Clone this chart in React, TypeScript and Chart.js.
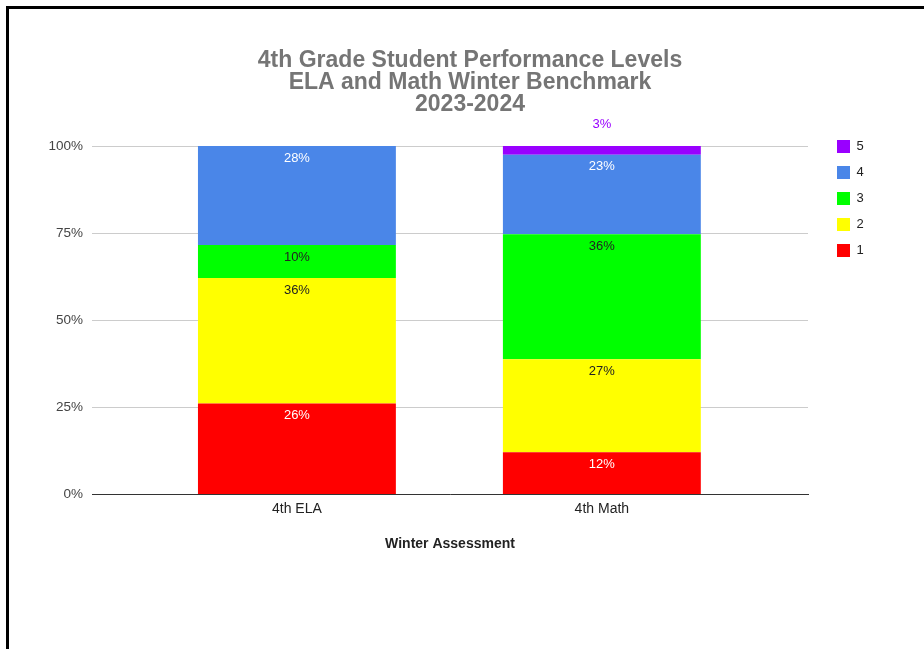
import React, { useEffect, useRef } from "react";
import { Chart, registerables } from "chart.js";

Chart.register(...registerables);

const categories = ["4th ELA", "4th Math"];
const levels = ["1", "2", "3", "4", "5"];
const level1 = [26.1, 12.1];
const level2 = [36.0, 26.7];
const level3 = [9.5, 35.9];
const level4 = [28.4, 22.8];
const level5 = [0, 2.5];
const levelColors = ["#ff0000", "#ffff00", "#00ff00", "#4a86e8", "#9900ff"];
const labelColors = ["#ffffff", "#222222", "#222222", "#ffffff", "#9900ff"];
const titleLines = ["4th Grade Student Performance Levels", "ELA and Math Winter Benchmark", "2023-2024"];
const xTitle = "Winter Assessment";

const FONT = "'Liberation Sans', Arial, sans-serif";

const dataLabels = {
  id: "dataLabels",
  afterDatasetsDraw(chart: any) {
    const ctx = chart.ctx;
    ctx.save();
    ctx.font = `13px ${FONT}`;
    ctx.textAlign = "center";
    ctx.textBaseline = "middle";
    chart.data.datasets.forEach((ds: any, i: number) => {
      const meta = chart.getDatasetMeta(i);
      meta.data.forEach((bar: any, j: number) => {
        const v = ds.data[j].y;
        if (!v) return;
        const p = bar.getProps(["x", "y", "base"], true);
        const h = p.base - p.y;
        ctx.fillStyle = labelColors[i];
        const ty = h < 16 ? p.y - 22 : p.y + 12;
        ctx.fillText(Math.round(v) + "%", p.x, ty);
      });
    });
    ctx.restore();
  },
};

const legendShift = {
  id: "legendShift",
  afterLayout(chart: any) {
    const lg = chart.legend;
    if (!lg) return;
    const target = chart.chartArea.top - 19;
    const dy = target - lg.top;
    lg.top += dy;
    lg.bottom += dy;
  },
};

export default function App() {
  const ref = useRef<HTMLCanvasElement>(null);
  useEffect(() => {
    const series = [level1, level2, level3, level4, level5];
    const chart = new Chart(ref.current as HTMLCanvasElement, {
      type: "bar",
      data: {
        datasets: series.map((vals, i) => ({
          label: levels[i],
          data: vals.map((v, k) => ({ x: k, y: v })),
          backgroundColor: levelColors[i],
          borderWidth: 0,
          categoryPercentage: 1,
          barPercentage: 0.649,
        })),
      },
      options: {
        animation: false,
        responsive: false,
        layout: { padding: { left: 0, right: 0, top: 0, bottom: 92 } },
        plugins: {
          tooltip: { enabled: false },
          title: {
            display: true,
            text: titleLines,
            color: "#757575",
            font: { family: FONT, size: 23, weight: "bold", lineHeight: 22 / 23 },
            padding: { top: 41, bottom: 30 },
          },
          legend: {
            position: "right",
            align: "start",
            reverse: true,
            labels: {
              boxWidth: 13,
              boxHeight: 13,
              padding: 13,
              color: "#222222",
              font: { family: FONT, size: 13 },
            },
          },
        },
        scales: {
          x: {
            type: "linear",
            stacked: true,
            offset: false,
            min: -0.672,
            max: 1.676,
            grid: { display: false, drawTicks: false },
            border: { display: true, color: "#333333", width: 1 },
            afterBuildTicks: (axis: any) => {
              axis.ticks = categories.map((_, i) => ({ value: i }));
            },
            ticks: {
              autoSkip: false,
              padding: 6,
              color: "#222222",
              font: { family: FONT, size: 14 },
              callback: (v: any) => categories[v] ?? "",
            },
            title: {
              display: true,
              text: xTitle,
              color: "#222222",
              font: { family: FONT, size: 14, weight: "bold" },
              padding: { top: 13, bottom: 4 },
            },
          },
          y: {
            stacked: true,
            min: 0,
            max: 100,
            afterFit: (s: any) => {
              s.width = 83;
            },
            grid: { color: "#cccccc", drawTicks: false },
            border: { display: false },
            ticks: {
              stepSize: 25,
              padding: 9,
              color: "#444444",
              font: { family: FONT, size: 13.5 },
              callback: (v: any) => v + "%",
            },
          },
          gapR: {
            type: "linear",
            position: "right",
            grid: { display: false, drawTicks: false },
            border: { display: false },
            ticks: { display: false },
            afterFit: (s: any) => {
              s.width = 16;
            },
          },
          padR: {
            type: "linear",
            position: "right",
            weight: 2000,
            grid: { display: false, drawTicks: false },
            border: { display: false },
            ticks: { display: false },
            afterFit: (s: any) => {
              const lw = s.chart.legend && s.chart.legend.width ? s.chart.legend.width : 50;
              s.width = Math.max(0, 123 - 16 - lw);
            },
          },
        } as any,
      },
      plugins: [dataLabels, legendShift],
    } as any);
    return () => chart.destroy();
  }, []);

  return (
    <div style={{ position: "fixed", left: 0, top: 0, right: 0, bottom: 0, overflow: "hidden", background: "#fff" }}>
      <div
        style={{
          position: "absolute",
          left: 6,
          top: 6,
          width: 2000,
          height: 2000,
          borderTop: "3px solid #000",
          borderLeft: "3px solid #000",
        }}
      />
      <canvas ref={ref} width={922} height={640} style={{ position: "absolute", left: 9, top: 9, width: 922, height: 640 }} />
    </div>
  );
}
